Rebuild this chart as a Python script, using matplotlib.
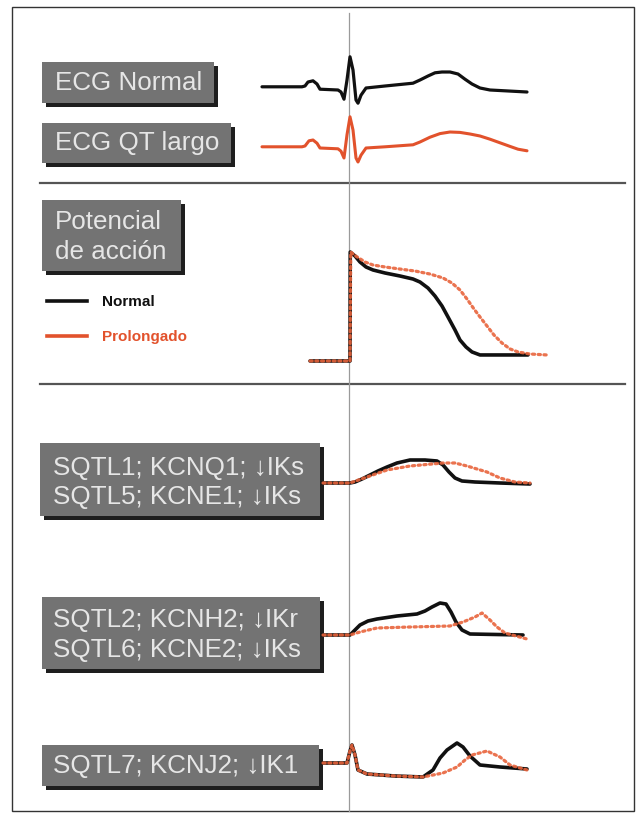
import matplotlib
matplotlib.use('Agg')
import matplotlib.pyplot as plt
from matplotlib.patches import Rectangle
from matplotlib.lines import Line2D

plt.rcParams['font.family'] = ['Liberation Sans', 'DejaVu Sans']

# ---------------- data (time in ms, t=0 at the reference line) ----------------
ecg_t = [-174, -94, -88, -82, -72, -64, -58, -22, -16, -10, -4, 2, 8, 14, 18, 24, 34,
         72, 128, 142, 158, 172, 186, 202, 218, 232, 246, 262, 282, 356]
ecg_normal = [0.03, 0.03, 0.05, 0.15, 0.18, 0.10, -0.03, -0.05, -0.10, -0.28, 0.20, 0.78,
              0.45, -0.30, -0.38, -0.18, 0.0, 0.05, 0.12, 0.20, 0.30, 0.38, 0.40, 0.40,
              0.35, 0.22, 0.10, 0.0, -0.05, -0.10]
ecgqt_t = [-174, -94, -88, -80, -72, -64, -58, -22, -16, -10, -4, 2, 8, 14, 18, 24, 34,
           72, 128, 142, 162, 182, 202, 222, 242, 262, 282, 302, 322, 338, 356]
ecg_qt = [0.03, 0.03, 0.05, 0.18, 0.20, 0.12, 0.0, -0.02, -0.08, -0.25, 0.33, 0.78,
          0.45, -0.25, -0.35, -0.18, 0.0, 0.03, 0.08, 0.15, 0.27, 0.36, 0.40, 0.39,
          0.35, 0.30, 0.22, 0.13, 0.04, -0.03, -0.07]

ap_n_t = [-78, 2, 2.5, 12, 22, 34, 48, 72, 102, 128, 142, 158, 172, 186, 198, 212,
          222, 234, 246, 262, 358]
ap_normal = [-85, -85, 20, 16.2, 10.4, 5.6, 2.7, -0.2, -3.1, -6.0, -8.9, -14.7, -22.4,
             -32.0, -42.6, -55.1, -64.8, -71.5, -76.3, -79.2, -79.2]
ap_p_t = [-78, 2, 3.5, 14, 32, 48, 72, 102, 132, 162, 188, 206, 222, 236, 250, 262,
          276, 290, 306, 322, 338, 362, 396]
ap_prolong = [-85, -85, 20, 16, 10.4, 7.5, 5.6, 3.6, 1.7, -1.2, -5.0, -9.9, -16.6,
              -25.3, -34.9, -42.6, -51.3, -60.0, -67.7, -73.4, -76.3, -78.3, -79.2]

c1n_t = [-52, 2, 12, 26, 42, 58, 76, 96, 122, 152, 176, 188, 200, 212, 226, 252, 302, 362]
c1_normal = [0, 0, 0.1, 0.4, 0.8, 1.2, 1.6, 2.0, 2.3, 2.3, 2.2, 1.8, 1.1, 0.5, 0.2,
             0.1, 0.0, -0.1]
c1p_t = [-52, 2, 36, 76, 122, 188, 212, 236, 276, 302, 332, 362]
c1_prolong = [0, 0, 0.6, 1.3, 1.7, 2.0, 2.0, 1.7, 1.1, 0.5, 0.1, 0.0]

c2n_t = [-52, 2, 12, 22, 38, 56, 96, 136, 152, 166, 182, 194, 204, 214, 226, 242, 348]
c2_normal = [0, 0, 0.5, 1.0, 1.4, 1.6, 1.9, 2.1, 2.4, 2.8, 3.2, 3.1, 2.3, 1.3, 0.5,
             0.1, 0.0]
c2p_t = [-52, 2, 22, 56, 122, 202, 228, 252, 266, 282, 296, 312, 356]
c2_prolong = [0, 0, 0.3, 0.7, 0.8, 0.9, 1.3, 1.8, 2.2, 1.5, 0.8, 0.2, -0.4]

c3n_t = [-52, -4, 2, 6, 12, 18, 36, 92, 148, 168, 182, 196, 216, 228, 242, 262, 302, 356]
c3_normal = [0, 0, 1.2, 1.8, 0.8, -0.7, -1.1, -1.3, -1.4, -0.7, 0.5, 1.3, 2.0, 1.6, 0.7,
             -0.2, -0.4, -0.6]
c3p_t = [-52, -4, 2, 6, 12, 18, 36, 92, 148, 188, 216, 232, 246, 276, 302, 322, 356]
c3_prolong = [0, 0, 1.2, 1.8, 0.8, -0.7, -1.1, -1.3, -1.4, -1.0, -0.4, 0.3, 0.8, 1.2,
              0.6, -0.2, -0.7]

labels_ecg = ['ECG Normal', 'ECG QT largo']
label_ap = ['Potencial', 'de acción']
legend_labels = ['Normal', 'Prolongado']
labels_c1 = ['SQTL1; KCNQ1; ↓IKs', 'SQTL5; KCNE1; ↓IKs']
labels_c2 = ['SQTL2; KCNH2; ↓IKr', 'SQTL6; KCNE2; ↓IKs']
labels_c3 = ['SQTL7; KCNJ2; ↓IK1']

# ---------------- styles ----------------
BLACK = '#111111'
RED = '#e2522c'
REDDOT = '#e8643c'
BOXFACE = '#737373'
BOXSHADOW = '#1e1e1e'
BOXTEXT = '#e6e6e6'

W, H = 644, 815
fig = plt.figure(figsize=(W / 100, H / 100), dpi=100)
fig.patch.set_facecolor('white')
over = fig.add_axes([0, 0, 1, 1])
over.set_xlim(0, W)
over.set_ylim(H, 0)
over.axis('off')

T_MIN, T_MAX = -198, 422
X_LEFT, X_RIGHT = 250, 560


def trace_axes(px_top, px_bot, v_top, v_bot):
    ax = fig.add_axes([X_LEFT / W, 1 - px_bot / H, (X_RIGHT - X_LEFT) / W,
                       (px_bot - px_top) / H])
    ax.set_xlim(T_MIN, T_MAX)
    ax.set_ylim(v_bot, v_top)
    ax.axis('off')
    ax.patch.set_alpha(0)
    return ax


def solid(ax, t, v, color=BLACK, lw=2.6):
    ax.plot(t, v, color=color, lw=lw, solid_capstyle='round', solid_joinstyle='round')


def dotted(ax, t, v):
    ax.plot(t, v, color=REDDOT, lw=2.3, linestyle=(0, (0.7, 1.1)),
            dash_capstyle='round', alpha=0.9)


def box(x0, y0, x1, y1, lines, ys, x_text, fs=18.7):
    over.add_patch(Rectangle((x0 + 4, y0 + 4), x1 - x0, y1 - y0, facecolor=BOXSHADOW,
                             edgecolor='none', zorder=2))
    over.add_patch(Rectangle((x0, y0), x1 - x0, y1 - y0, facecolor=BOXFACE,
                             edgecolor='none', zorder=3))
    for s, y in zip(lines, ys):
        over.text(x_text, y, s, color=BOXTEXT, fontsize=fs, va='center', ha='left',
                  zorder=4)


# frame
over.add_patch(Rectangle((12, 7), 622, 804, facecolor='none', edgecolor='#333333',
                         lw=1.0, zorder=1))
# separators
for ysep in (183, 384):
    over.plot([40, 625], [ysep, ysep], color='#555555', lw=1.6, zorder=1)

# trace axes
ax_ecg = trace_axes(40, 120, 1.2, -0.8)
ax_qt = trace_axes(100, 180, 1.2, -0.8)
ax_ap = trace_axes(240, 370, 31.6, -93.7)
ax_c1 = trace_axes(440, 520, 4.3, -3.7)
ax_c2 = trace_axes(590, 670, 4.5, -3.5)
ax_c3 = trace_axes(730, 800, 3.3, -3.7)

# reference vertical line at t = 0
x0_px = over.transData.inverted().transform(ax_ecg.transData.transform((0, 0)))[0]
over.plot([x0_px, x0_px], [13, 811], color='#9a9a9a', lw=0.9, zorder=1)

solid(ax_ecg, ecg_t, ecg_normal, lw=2.3)
solid(ax_qt, ecgqt_t, ecg_qt, color=RED, lw=2.2)

solid(ax_ap, ap_n_t, ap_normal)
dotted(ax_ap, ap_p_t, ap_prolong)

solid(ax_c1, c1n_t, c1_normal)
dotted(ax_c1, c1p_t, c1_prolong)
solid(ax_c2, c2n_t, c2_normal)
dotted(ax_c2, c2p_t, c2_prolong)
solid(ax_c3, c3n_t, c3_normal)
dotted(ax_c3, c3p_t, c3_prolong)

# label boxes
box(42, 62, 214, 103, labels_ecg[:1], [83], 55)
box(42, 123, 231, 163, labels_ecg[1:], [143], 55)
box(42, 200, 181, 271, label_ap, [222, 252], 55)
box(40, 443, 320, 516, labels_c1, [468, 497], 53)
box(42, 597, 320, 669, labels_c2, [620, 650], 53)
box(42, 745, 319, 786, labels_c3, [766], 53)

# legend
handles = [Line2D([], [], color=BLACK, lw=2.6), Line2D([], [], color=RED, lw=2.6)]
leg = fig.legend(handles, legend_labels, loc='upper left',
                 bbox_to_anchor=(35 / W, 1 - 283 / H), frameon=False,
                 prop={'weight': 'bold', 'size': 11}, handlelength=2.6,
                 handletextpad=1.0, labelspacing=1.35, borderpad=0.3,
                 labelcolor=[BLACK, RED])

fig.savefig('out.png', dpi=100, facecolor='white')
